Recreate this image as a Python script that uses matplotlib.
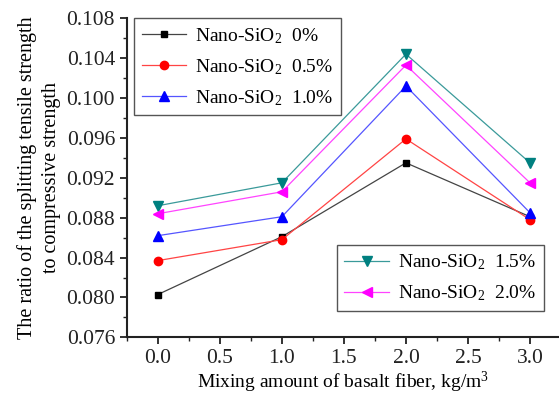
import matplotlib
matplotlib.use("Agg")
import matplotlib.pyplot as plt
from matplotlib.ticker import MultipleLocator, FormatStrFormatter

plt.rcParams['font.family'] = ['Liberation Serif', 'DejaVu Serif']
plt.rcParams['mathtext.fontset'] = 'custom'
plt.rcParams['mathtext.rm'] = 'Liberation Serif'
plt.rcParams['mathtext.it'] = 'Liberation Serif:italic'

# Data
fiber = [0.0, 1.0, 2.0, 3.0]
sio2_0 = [0.0803, 0.0861, 0.0935, 0.0881]
sio2_05 = [0.0837, 0.0858, 0.0959, 0.0878]
sio2_10 = [0.0862, 0.0881, 0.1012, 0.0885]
sio2_15 = [0.0892, 0.0915, 0.1044, 0.0935]
sio2_20 = [0.0884, 0.0906, 0.1033, 0.0915]
labels = [r'Nano-SiO$_2$  0%', r'Nano-SiO$_2$  0.5%', r'Nano-SiO$_2$  1.0%',
          r'Nano-SiO$_2$  1.5%', r'Nano-SiO$_2$  2.0%']

fig = plt.figure(figsize=(5.59, 3.96), dpi=100)
ax = fig.add_axes([0.227, 0.148, 0.773, 0.806])

lw = 0.9
h0, = ax.plot(fiber, sio2_0, color='#444444', lw=lw, marker='s', ms=5,
              mfc='black', mec='black', label=labels[0])
h1, = ax.plot(fiber, sio2_05, color='#ff4444', lw=lw, marker='o', ms=6,
              mfc='red', mec='red', label=labels[1])
h2, = ax.plot(fiber, sio2_10, color='#5555ff', lw=lw, marker='^', ms=7,
              mfc='blue', mec='blue', label=labels[2])
h3, = ax.plot(fiber, sio2_15, color='#3a9a9a', lw=lw, marker='v', ms=7,
              mfc='#008080', mec='#008080', label=labels[3])
h4, = ax.plot(fiber, sio2_20, color='#ff44ff', lw=lw, marker='<', ms=7,
              mfc='magenta', mec='magenta', label=labels[4])

ax.set_xlim(-0.25, 3.234)
ax.set_ylim(0.076, 0.108)
ax.xaxis.set_major_locator(MultipleLocator(0.5))
ax.xaxis.set_minor_locator(MultipleLocator(0.25))
ax.yaxis.set_major_locator(MultipleLocator(0.004))
ax.yaxis.set_minor_locator(MultipleLocator(0.002))
ax.xaxis.set_major_formatter(FormatStrFormatter('%.1f'))
ax.yaxis.set_major_formatter(FormatStrFormatter('%.3f'))
ax.tick_params(axis='both', which='major', labelsize=15.5, direction='out',
               length=5, width=1.3, colors='#222222')
ax.tick_params(axis='both', which='minor', direction='out', length=3, width=1.0,
               colors='#222222')

for s in ['top', 'right']:
    ax.spines[s].set_visible(False)
for s in ['left', 'bottom']:
    ax.spines[s].set_linewidth(1.5)
    ax.spines[s].set_color('#222222')

ax.set_xlabel(r'Mixing amount of basalt fiber, kg/m$^3$', fontsize=14, labelpad=1)
ax.set_ylabel('The ratio of the splitting tensile strength\nto compressive strength',
              fontsize=14.5, labelpad=4, linespacing=1.35)

leg_kw = dict(fontsize=14, frameon=True, fancybox=False, framealpha=1,
              edgecolor='#555555', handlelength=2.3, labelspacing=0.58,
              borderpad=0.4, handletextpad=0.45, borderaxespad=0)
leg1 = ax.legend(handles=[h0, h1, h2], loc='upper left',
                 bbox_to_anchor=(0.016, 1.0), **leg_kw)
leg1.get_frame().set_linewidth(1.0)
ax.add_artist(leg1)
leg2 = ax.legend(handles=[h3, h4], loc='lower right',
                 bbox_to_anchor=(0.965, 0.082), **leg_kw)
leg2.get_frame().set_linewidth(1.0)

fig.savefig('out.png', dpi=100)
